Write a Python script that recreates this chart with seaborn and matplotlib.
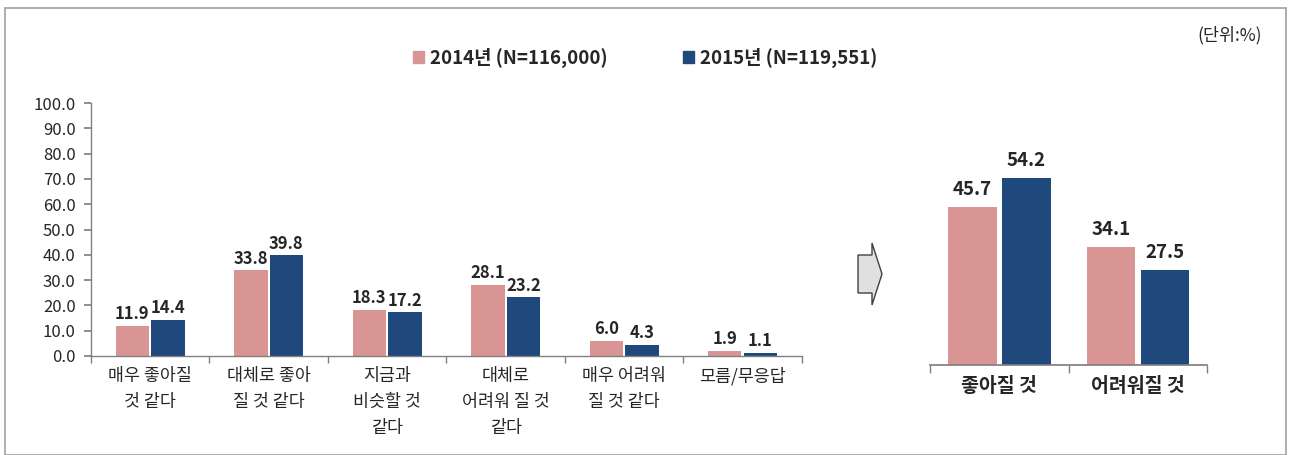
import matplotlib
matplotlib.use("Agg")
import matplotlib.pyplot as plt
import matplotlib.patches as mpatches
import numpy as np
import pandas as pd
import seaborn as sns

# data
years = ["2014년 (N=116,000)", "2015년 (N=119,551)"]
cats = ["매우 좋아질\n것 같다", "대체로 좋아\n질 것 같다", "지금과\n비슷할 것\n같다",
        "대체로\n어려워 질 것\n같다", "매우 어려워\n질 것 같다", "모름/무응답"]
v2014 = [11.9, 33.8, 18.3, 28.1, 6.0, 1.9]
v2015 = [14.4, 39.8, 17.2, 23.2, 4.3, 1.1]
sum_cats = ["좋아질 것", "어려워질 것"]
s2014 = [45.7, 34.1]
s2015 = [54.2, 27.5]

pink = "#D99594"
navy = "#1F497D"

sns.set_theme(style="white")
plt.rcParams['font.family'] = ['Noto Sans CJK KR', 'DejaVu Sans']

df = pd.DataFrame({"cat": cats * 2, "val": v2014 + v2015,
                   "year": [years[0]] * len(cats) + [years[1]] * len(cats)})
dfs = pd.DataFrame({"cat": sum_cats * 2, "val": s2014 + s2015,
                    "year": [years[0]] * 2 + [years[1]] * 2})

fig = plt.figure(figsize=(12.9, 4.55), dpi=100)
fig.patch.set_facecolor("white")

# left chart
ax = fig.add_axes([0.0705, 0.2176, 0.551, 0.556])
sns.barplot(data=df, x="cat", y="val", hue="year", palette=[pink, navy],
            saturation=1, width=0.6, gap=0.06, linewidth=0, ax=ax, legend=False)
ax.set_ylim(0, 100)
ax.set_xlim(-0.5, len(cats) - 0.5)
ax.set_yticks(np.arange(0, 101, 10))
ax.set_yticklabels([f"{t:.1f}" for t in np.arange(0, 101, 10)], fontsize=12)
ax.set_xlabel("")
ax.set_ylabel("")
ax.tick_params(axis="x", length=0, labelsize=12.5, pad=8)
for lab in ax.get_xticklabels():
    lab.set_linespacing(1.55)
ax.set_xticks(np.arange(-0.5, len(cats)), minor=True)
ax.tick_params(axis="x", which="minor", length=5, color="#808080", bottom=True)
ax.tick_params(axis="y", length=5, color="#808080", left=True, pad=6)
for s in ["top", "right"]:
    ax.spines[s].set_visible(False)
for s in ["left", "bottom"]:
    ax.spines[s].set_color("#808080")
    ax.spines[s].set_linewidth(1)
for c in ax.containers:
    ax.bar_label(c, fmt="%.1f", fontweight="bold", fontsize=12, padding=2)

# right chart
ax2 = fig.add_axes([0.721, 0.198, 0.2147, 0.455])
sns.barplot(data=dfs, x="cat", y="val", hue="year", palette=[pink, navy],
            saturation=1, width=0.78, gap=0.1, linewidth=0, ax=ax2, legend=False)
ax2.set_ylim(0, 60)
ax2.set_xlim(-0.5, 1.5)
ax2.set_yticks([])
ax2.set_xlabel("")
ax2.set_ylabel("")
ax2.tick_params(axis="x", length=0, labelsize=14, pad=9)
for lab in ax2.get_xticklabels():
    lab.set_fontweight("bold")
ax2.set_xticks([-0.5, 0.5, 1.5], minor=True)
ax2.tick_params(axis="x", which="minor", length=6, color="#808080", bottom=True)
for s in ["top", "right", "left"]:
    ax2.spines[s].set_visible(False)
ax2.spines["bottom"].set_color("#808080")
for c in ax2.containers:
    ax2.bar_label(c, fmt="%.1f", fontweight="bold", fontsize=13.5, padding=6)

# legend
handles = [mpatches.Patch(color=pink), mpatches.Patch(color=navy)]
fig.legend(handles, years, loc="center", bbox_to_anchor=(0.5, 0.873), ncol=2,
           frameon=False, prop={"weight": "bold", "size": 13.5},
           handlelength=0.6, handleheight=0.6, handletextpad=0.3,
           columnspacing=4.0)

fig.text(0.978, 0.922, "(단위:%)", ha="right", va="center", fontsize=12.5)

# arrow
W, H = 1290, 455
pts = [(858, 255), (872, 255), (872, 243), (882, 274), (872, 305), (872, 293), (858, 293)]
arrow = mpatches.Polygon([(x / W, 1 - y / H) for x, y in pts], closed=True,
                         transform=fig.transFigure, facecolor="#e0e0e0",
                         edgecolor="#404040", linewidth=1)
fig.add_artist(arrow)

# outer border
border = mpatches.Rectangle((5 / W, 0.0), 1 - 9 / W, 1 - 8 / H, transform=fig.transFigure,
                            fill=False, edgecolor="#a0a0a0", linewidth=1.2)
fig.add_artist(border)

fig.savefig("out.png", dpi=100, facecolor="white")
